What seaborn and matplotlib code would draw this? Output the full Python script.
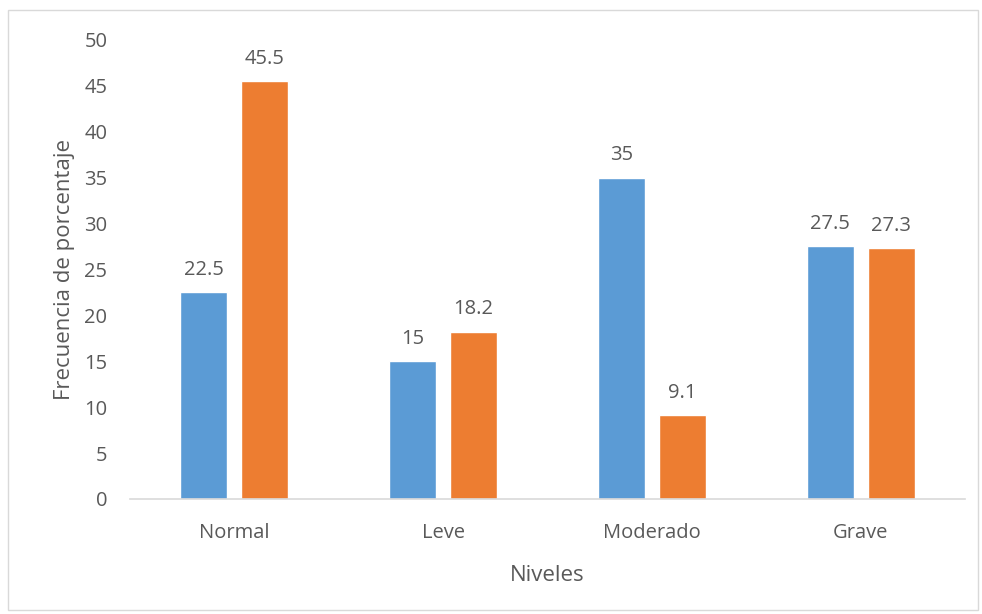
import matplotlib
matplotlib.use("Agg")
from matplotlib import pyplot as plt
from matplotlib.patches import Rectangle
import seaborn as sns
import pandas as pd

niveles = ["Normal", "Leve", "Moderado", "Grave"]
serie_1 = [22.5, 15, 35, 27.5]
serie_2 = [45.5, 18.2, 9.1, 27.3]
colores = ["#5B9BD5", "#ED7D31"]

df = pd.DataFrame({
    "Niveles": niveles * 2,
    "valor": serie_1 + serie_2,
    "serie": ["Serie 1"] * 4 + ["Serie 2"] * 4,
})

sns.set_style("white")
plt.rcParams["font.family"] = ["Open Sans", "DejaVu Sans"]
txt = "#595959"

fig = plt.figure(figsize=(9.82, 6.14), dpi=100)
ax = fig.add_axes([0.132, 0.1873, 0.851, 0.7477])
sns.barplot(data=df, x="Niveles", y="valor", hue="serie", palette=colores,
            width=0.584, gap=0.23, legend=False, ax=ax, saturation=1)

for cont in ax.containers:
    ax.bar_label(cont, labels=[f"{v:g}" for v in cont.datavalues],
                 padding=9, fontsize=14.5, color=txt)

ax.set_ylim(0, 50)
ax.set_xlim(-0.5, 3.5)
ax.set_yticks(range(0, 51, 5))
ax.tick_params(axis="y", length=0, pad=16, labelsize=14.5, labelcolor=txt)
ax.tick_params(axis="x", length=0, pad=17, labelsize=14.5, labelcolor=txt)
ax.set_xlabel("Niveles", fontsize=16, color=txt, labelpad=16)
ax.set_ylabel("Frecuencia de porcentaje", fontsize=16, color=txt, labelpad=7)
for s in ["top", "right", "left"]:
    ax.spines[s].set_visible(False)
ax.spines["bottom"].set_color("#D9D9D9")
ax.spines["bottom"].set_linewidth(1.2)

fig.patches.append(Rectangle((8 / 982, 4 / 614), 970 / 982, 600 / 614,
                             transform=fig.transFigure, fill=False,
                             edgecolor="#D9D9D9", linewidth=1))

fig.savefig("out.png", dpi=100)
plt.close()
